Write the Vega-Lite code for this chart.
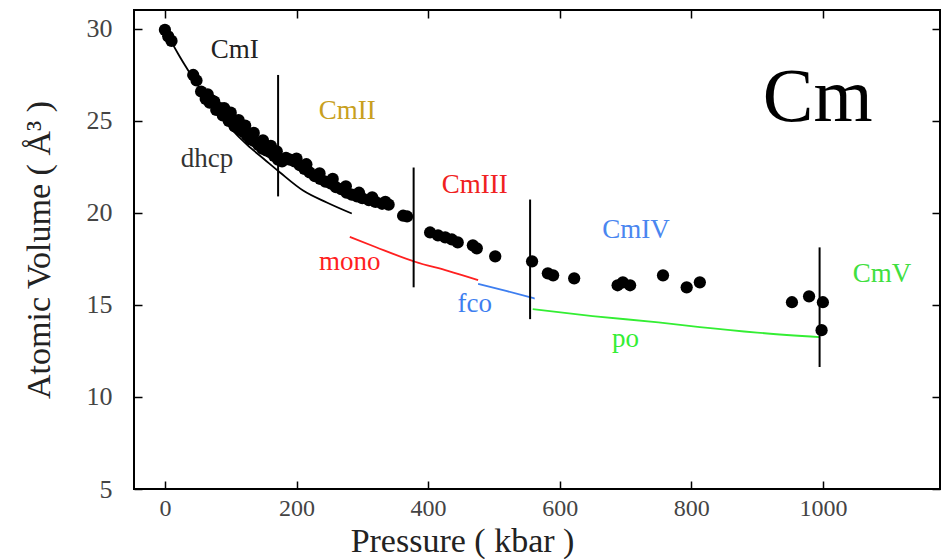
{
  "$schema": "https://vega.github.io/schema/vega-lite/v6.json",
  "autosize": {"type": "none"},
  "padding": {"left": 134, "top": 10, "right": 3, "bottom": 70},
  "width": 806,
  "height": 479,
  "background": "white",
  "config": {
    "view": {"stroke": "black", "strokeWidth": 2},
    "font": "Liberation Serif",
    "axis": {"labelFont": "Liberation Serif", "titleFont": "Liberation Serif"}
  },
  "resolve": {"axis": {"x": "independent", "y": "independent"}},
  "datasets": {
    "pts": [
      {"p": 0, "v": 29.95}, {"p": 5, "v": 29.6}, {"p": 10, "v": 29.35},
      {"p": 43, "v": 27.5}, {"p": 48, "v": 27.2}, {"p": 55, "v": 26.6},
      {"p": 62, "v": 26.2}, {"p": 65, "v": 26.45}, {"p": 68, "v": 26.0}, {"p": 72, "v": 26.1},
      {"p": 75, "v": 26.05}, {"p": 78, "v": 25.6}, {"p": 84, "v": 25.7}, {"p": 88, "v": 25.3},
      {"p": 90, "v": 25.7}, {"p": 93, "v": 25.5}, {"p": 97, "v": 25.0}, {"p": 100, "v": 25.45},
      {"p": 102, "v": 25.1}, {"p": 106, "v": 24.7}, {"p": 110, "v": 24.9}, {"p": 112, "v": 25.05},
      {"p": 115, "v": 24.5}, {"p": 120, "v": 24.4}, {"p": 122, "v": 24.75}, {"p": 125, "v": 24.2},
      {"p": 130, "v": 24.0}, {"p": 135, "v": 24.35}, {"p": 136, "v": 23.9}, {"p": 142, "v": 23.7},
      {"p": 148, "v": 23.5}, {"p": 149, "v": 23.95}, {"p": 154, "v": 23.4}, {"p": 160, "v": 23.3},
      {"p": 161, "v": 23.65}, {"p": 166, "v": 23.1}, {"p": 170, "v": 23.35},
      {"p": 172, "v": 22.9}, {"p": 178, "v": 22.8}, {"p": 184, "v": 23.0},
      {"p": 190, "v": 22.9}, {"p": 197, "v": 22.8}, {"p": 200, "v": 22.95}, {"p": 205, "v": 22.6},
      {"p": 212, "v": 22.4}, {"p": 215, "v": 22.65}, {"p": 220, "v": 22.2}, {"p": 228, "v": 22.0},
      {"p": 235, "v": 22.15}, {"p": 236, "v": 21.85}, {"p": 244, "v": 21.7}, {"p": 252, "v": 21.6},
      {"p": 255, "v": 21.85}, {"p": 260, "v": 21.4}, {"p": 268, "v": 21.3}, {"p": 275, "v": 21.45},
      {"p": 276, "v": 21.1}, {"p": 284, "v": 21.0}, {"p": 292, "v": 20.9}, {"p": 295, "v": 21.1},
      {"p": 300, "v": 20.8}, {"p": 310, "v": 20.7}, {"p": 315, "v": 20.85}, {"p": 320, "v": 20.6},
      {"p": 330, "v": 20.5}, {"p": 335, "v": 20.6},
      {"p": 340, "v": 20.45}, {"p": 362, "v": 19.85}, {"p": 368, "v": 19.81}, {"p": 403, "v": 18.94},
      {"p": 415, "v": 18.78}, {"p": 426, "v": 18.67}, {"p": 436, "v": 18.56},
      {"p": 445, "v": 18.4}, {"p": 468, "v": 18.24}, {"p": 474, "v": 18.08},
      {"p": 502, "v": 17.64}, {"p": 558, "v": 17.37}, {"p": 582, "v": 16.72},
      {"p": 590, "v": 16.61}, {"p": 622, "v": 16.45}, {"p": 688, "v": 16.07},
      {"p": 696, "v": 16.23}, {"p": 707, "v": 16.07}, {"p": 757, "v": 16.61},
      {"p": 793, "v": 15.96}, {"p": 813, "v": 16.23}, {"p": 953, "v": 15.15},
      {"p": 979, "v": 15.47}, {"p": 1000, "v": 15.15}, {"p": 998, "v": 13.63}
    ],
    "curves": [
      {"phase": "dhcp", "p": 0, "v": 30.0}, {"phase": "dhcp", "p": 10, "v": 29.3},
      {"phase": "dhcp", "p": 20, "v": 28.65}, {"phase": "dhcp", "p": 30, "v": 28.05},
      {"phase": "dhcp", "p": 45, "v": 27.2}, {"phase": "dhcp", "p": 60, "v": 26.4},
      {"phase": "dhcp", "p": 80, "v": 25.45}, {"phase": "dhcp", "p": 100, "v": 24.6},
      {"phase": "dhcp", "p": 125, "v": 23.7}, {"phase": "dhcp", "p": 150, "v": 22.95},
      {"phase": "dhcp", "p": 175, "v": 22.2}, {"phase": "dhcp", "p": 210, "v": 21.22},
      {"phase": "dhcp", "p": 246, "v": 20.57}, {"phase": "dhcp", "p": 284, "v": 19.97},
      {"phase": "mono", "p": 281, "v": 18.7}, {"phase": "mono", "p": 320, "v": 18.15},
      {"phase": "mono", "p": 380, "v": 17.35}, {"phase": "mono", "p": 430, "v": 16.85},
      {"phase": "mono", "p": 476, "v": 16.35},
      {"phase": "fco", "p": 476, "v": 16.15}, {"phase": "fco", "p": 520, "v": 15.75},
      {"phase": "fco", "p": 562, "v": 15.35},
      {"phase": "po", "p": 559, "v": 14.77}, {"phase": "po", "p": 650, "v": 14.4},
      {"phase": "po", "p": 750, "v": 14.05}, {"phase": "po", "p": 813, "v": 13.8},
      {"phase": "po", "p": 900, "v": 13.5}, {"phase": "po", "p": 995, "v": 13.25}
    ],
    "bounds": [
      {"p": 172, "v1": 27.5, "v2": 20.9},
      {"p": 378, "v1": 22.47, "v2": 15.96},
      {"p": 555, "v1": 20.73, "v2": 14.23},
      {"p": 995, "v1": 18.13, "v2": 11.63}
    ],
    "labels": [
      {"label": "CmI", "p": 106, "v": 28.43},
      {"label": "CmII", "p": 277, "v": 25.12},
      {"label": "dhcp ", "p": 64, "v": 22.52},
      {"label": "CmIII", "p": 471, "v": 21.11},
      {"label": "mono", "p": 281, "v": 16.88},
      {"label": "fco", "p": 471, "v": 14.6},
      {"label": "CmIV", "p": 716, "v": 18.62},
      {"label": "CmV", "p": 1090, "v": 16.23},
      {"label": "po", "p": 700, "v": 12.71}
    ],
    "title": [
      {"label": "Cm", "p": 992, "v": 25.01}
    ]
  },
  "layer": [
    {
      "data": {"name": "curves"},
      "mark": {"type": "line", "interpolate": "monotone", "strokeWidth": 1.8},
      "encoding": {
        "x": {
          "field": "p", "type": "quantitative",
          "scale": {"domain": [-47, 1178], "nice": false, "zero": false},
          "axis": {
            "orient": "bottom",
            "title": "Pressure ( kbar )", "values": [0, 200, 400, 600, 800, 1000], "format": "d",
            "offset": -8, "tickSize": 8, "tickColor": "black", "tickWidth": 1.5, "domain": false, "grid": false,
            "labelFont": "Liberation Serif", "labelFontSize": 24, "labelColor": "#444",
            "labelPadding": 7, "titleFont": "Liberation Serif", "titleFontSize": 34,
            "titleFontWeight": "normal", "titleColor": "#222",
            "titleX": 328, "titleY": 70, "titleBaseline": "alphabetic", "titleAlign": "center"
          }
        },
        "y": {
          "field": "v", "type": "quantitative",
          "scale": {"domain": [5, 31.03], "nice": false, "zero": false},
          "axis": {
            "orient": "left",
            "title": "Atomic Volume ( Å³ )", "values": [5, 10, 15, 20, 25, 30],
            "offset": -8, "tickSize": 8, "tickColor": "black", "tickWidth": 1.5, "domain": false, "grid": false,
            "labelFont": "Liberation Serif", "labelFontSize": 26, "labelColor": "#444",
            "labelPadding": 22, "titleFont": "Liberation Serif", "titleFontSize": 34,
            "titleFontWeight": "normal", "titleColor": "#222", "titlePadding": 30
          }
        },
        "detail": {"field": "phase"},
        "color": {
          "field": "phase", "type": "nominal", "legend": null,
          "scale": {
            "domain": ["dhcp", "mono", "fco", "po", "CmI", "CmII", "CmIII", "CmIV", "CmV", "dhcp "],
            "range": ["#000000", "#ff2020", "#3d7ef0", "#33ee33", "#222222", "#c8a020", "#f02020", "#4a86f0", "#40e040", "#333333"]
          }
        }
      }
    },
    {
      "data": {"name": "bounds"},
      "mark": {"type": "rule", "color": "black", "strokeWidth": 2},
      "encoding": {
        "x": {
          "field": "p", "type": "quantitative",
          "axis": {"orient": "top", "values": [0, 200, 400, 600, 800, 1000], "labels": false, "title": null,
                   "offset": -8, "tickSize": 8, "tickColor": "black", "tickWidth": 1.5, "domain": false, "grid": false}
        },
        "y": {
          "field": "v1", "type": "quantitative",
          "axis": {"orient": "right", "values": [5, 10, 15, 20, 25, 30], "labels": false, "title": null,
                   "offset": -8, "tickSize": 8, "tickColor": "black", "tickWidth": 1.5, "domain": false, "grid": false}
        },
        "y2": {"field": "v2"}
      }
    },
    {
      "data": {"name": "pts"},
      "mark": {"type": "circle", "size": 150, "color": "black", "opacity": 1},
      "encoding": {
        "x": {"field": "p", "type": "quantitative", "axis": null},
        "y": {"field": "v", "type": "quantitative", "axis": null}
      }
    },
    {
      "data": {"name": "labels"},
      "mark": {"type": "text", "font": "Liberation Serif", "fontSize": 27, "align": "center", "baseline": "alphabetic"},
      "encoding": {
        "x": {"field": "p", "type": "quantitative", "axis": null},
        "y": {"field": "v", "type": "quantitative", "axis": null},
        "text": {"field": "label"},
        "color": {"field": "label", "type": "nominal", "legend": null}
      }
    },
    {
      "data": {"name": "title"},
      "mark": {"type": "text", "font": "Liberation Serif", "fontSize": 76, "align": "center", "baseline": "alphabetic", "color": "black"},
      "encoding": {
        "x": {"field": "p", "type": "quantitative", "axis": null},
        "y": {"field": "v", "type": "quantitative", "axis": null},
        "text": {"field": "label"}
      }
    }
  ]
}
